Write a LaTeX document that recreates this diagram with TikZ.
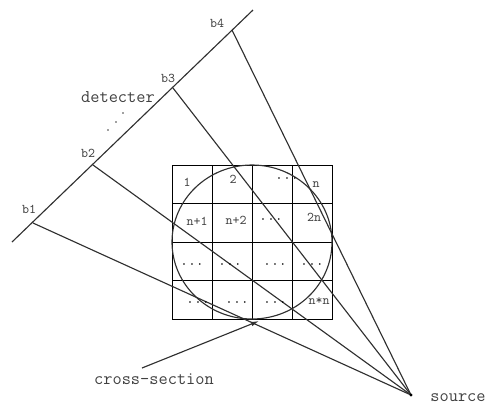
\documentclass[tikz,border=0pt]{standalone}
\usetikzlibrary{arrows.meta}
\definecolor{ink}{HTML}{303030}
\definecolor{lab}{HTML}{404040}
\tikzset{
 ray/.style={draw=ink,line width=0.85pt},
 gridline/.style={draw=black,line width=0.75pt},
 big/.style={text=lab,inner sep=0pt,font=\fontsize{13.4}{14}\selectfont\ttfamily},
 tag/.style={text=lab,inner sep=0pt,font=\fontsize{10}{11}\selectfont\ttfamily},
 cell/.style={text=lab,inner sep=0pt,font=\fontsize{10}{11}\selectfont\ttfamily},
 dotcell/.style={text=black,inner sep=0pt,font=\fontsize{12}{12}\selectfont},
 speck/.style={circle,fill=lab,inner sep=0pt,minimum size=1.4pt}
}
\newcommand{\threedots}{$\cdot$\kern2.6pt$\cdot$\kern2.6pt$\cdot$}
\begin{document}
\begin{tikzpicture}[x=0.75pt,y=-0.75pt]
\useasboundingbox (0,0) rectangle (486,405);
% detector line and points
\coordinate (dA) at (12,242);
\coordinate (dB) at (253,10);
\coordinate (p1) at (33,223);
\coordinate (p2) at (93,165);
\coordinate (p3) at (173,88);
\coordinate (p4) at (232,30);
\coordinate (src) at (411,395);
\draw[ray] (dA) -- (dB);
% grid
\draw[gridline] (172,165) rectangle (332,319);
\foreach \x in {212,252.5,292} \draw[gridline] (\x,165) -- (\x,319);
\foreach \y in {203.5,242,280.5} \draw[gridline] (172,\y) -- (332,\y);
% circle
\draw[ray] (252,242) ellipse [x radius=80,y radius=77];
% rays
\draw[ray] (p1) -- (src);
\draw[ray] (p2) -- (src);
\draw[ray] (p3) -- (src);
\draw[ray] (p4) -- (src);
\fill[black] (src) circle (1.3pt);
% pointer
\coordinate (cs) at (142,368);
\coordinate (ct) at (259,321);
\draw[ray,-{Latex[length=6pt,width=3.5pt]}] (cs) -- (ct);
% labels
\node[tag] (b1) at (29,209) {b1};
\node[tag] (b2) at (88,153) {b2};
\node[tag] (b3) at (168,78) {b3};
\node[tag] (b4) at (217,23) {b4};
\node[big] (det) at (118,97) {detecter};
\node[big] (cross) at (154,379) {cross-section};
\node[big] (source) at (458,398) {source};
\node[speck] (s1) at (108,130) {};
\node[speck] (s2) at (116,122) {};
\node[speck] (s3) at (123,113) {};
% cells
\node[cell] (c11) at (187,182) {1};
\node[cell] (c12) at (233,179) {2};
\node[dotcell] (c13) at (287,179) {\threedots};
\node[cell] (c14) at (316,185) {n};
\node[cell] (c21) at (197,221) {n+1};
\node[cell] (c22) at (236,220) {n+2};
\node[dotcell] (c23) at (271,220) {\threedots};
\node[cell] (c24) at (314,217) {2n};
\node[dotcell] (c31) at (192,265) {\threedots};
\node[dotcell] (c32) at (230,265) {\threedots};
\node[dotcell] (c33) at (275,265) {\threedots};
\node[dotcell] (c34) at (312,265) {\threedots};
\node[dotcell] (c41) at (198,303) {\threedots};
\node[dotcell] (c42) at (237,303) {\threedots};
\node[dotcell] (c43) at (275,303) {\threedots};
\node[cell] (c44) at (319,301) {n*n};
\end{tikzpicture}
\end{document}
